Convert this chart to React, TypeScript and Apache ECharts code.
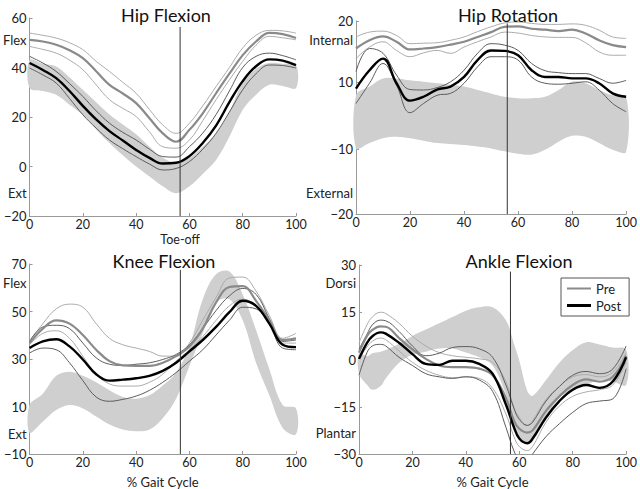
import React, { useEffect, useRef } from "react";
import * as echarts from "echarts";

// ---------- Hip Flexion ----------
const X_HIP_FLEX = [0, 5, 10, 15, 20, 25, 30, 35, 40, 45, 50, 55, 60, 65, 70, 75, 80, 85, 90, 95, 100];
const hipFlexBandUpper = [43, 41.5, 40.4, 36, 31, 26, 21, 17, 13, 8, 3.5, 1.5, 3.5, 8, 13.4, 22, 33.7, 39.5, 41.8, 41.5, 41];
const hipFlexBandLower = [31.7, 30.5, 29, 25, 20.9, 15, 9.5, 4.5, 0, -4, -8, -10.8, -8, -3, 2.6, 12, 22.9, 29, 33, 32.5, 31.7];
const hipFlexPreMean = [51.2, 50.5, 49.2, 47, 43.8, 38.5, 33, 29.5, 25.6, 19.5, 13.4, 10, 14.8, 21.5, 29.6, 37.5, 45, 50.5, 54, 53.5, 51.9];
const hipFlexPreUpper = [53.9, 53, 51.9, 50, 47.2, 42.5, 38.4, 34, 29.6, 23, 16.8, 13.4, 17.5, 24.5, 32.3, 40, 47.9, 53, 55, 54.8, 53.9];
const hipFlexPreLower = [48.5, 47.3, 45.8, 43, 39.1, 33, 27, 23.5, 20.2, 14, 8, 7.4, 10.7, 18.5, 27, 35, 42.5, 49, 52.6, 52, 51.2];
const hipFlexPostMean = [41.8, 39, 35.7, 30.5, 24.5, 19, 14.3, 10.5, 6.7, 3.5, 1.2, 1.5, 4.2, 9.5, 16.5, 26, 34.5, 40.5, 43.3, 42.8, 41];
const hipFlexPostUpper = [44.5, 41.8, 38.4, 33.5, 28.3, 22.5, 17.5, 13.8, 10.7, 7, 4, 3.8, 8, 13.5, 21, 30.5, 40, 44.5, 45.8, 44.8, 43.1];
const hipFlexPostLower = [39.8, 37, 33.7, 27.5, 20.9, 15.5, 10.7, 7.2, 4, 1, -1.4, -0.8, 2, 7, 13.4, 22, 31, 37.5, 41, 40.8, 39.8];
const hipFlexYTicks = [60, 51, 40, 20, 0, -10.7, -20];
const hipFlexYLabels = ["60", "Flex", "40", "20", "0", "Ext", "\u221220"];
const hipFlexToeOff = 56.5;

// ---------- Hip Rotation ----------
const X_HIP_ROT = [0, 5, 10, 15, 20, 25, 30, 35, 40, 45, 50, 55, 60, 65, 70, 75, 80, 85, 90, 95, 100];
const hipRotBandUpper = [4.6, 6.4, 8.1, 8.1, 7.7, 7.4, 7.1, 6.8, 6.4, 5.7, 5.0, 4.3, 4.0, 4.0, 4.3, 5.7, 7.4, 7.1, 5.7, 4.6, 4.3];
const hipRotBandLower = [-6.4, -5.3, -4.3, -4.0, -4.3, -4.8, -5.3, -5.5, -5.7, -6, -6.4, -7.0, -7.5, -7.7, -6.7, -5.0, -3.8, -4.0, -5.3, -6.7, -7.1];
const hipRotPreMean = [14.3, 16, 16.8, 15.7, 14.1, 14.3, 14.6, 15.1, 15.7, 16.7, 17.7, 18.8, 18.9, 18.4, 18.2, 17.9, 18.2, 17.4, 16, 15, 14.6];
const hipRotPreUpper = [16.7, 17.7, 17.9, 17, 15.3, 15.4, 15.5, 16, 16.7, 17.8, 18.8, 19.6, 19.8, 19.5, 19.3, 19.3, 19.4, 19.1, 18.1, 16.7, 16.4];
const hipRotPreLower = [12.2, 14.6, 15.7, 13.9, 12.6, 13.4, 13.9, 13.3, 14.6, 15.7, 16.7, 17.7, 17.5, 17, 16.7, 16.6, 16.6, 15.5, 13.6, 12.9, 12.9];
const hipRotPostMean = [6.0, 9.8, 12.2, 7.1, 3.5, 4.3, 5.8, 6.4, 8.4, 11.9, 13.9, 13.8, 12.9, 9.8, 8.4, 8.4, 8.1, 8.1, 7.1, 5, 4.3];
const hipRotPostUpper = [9.5, 14.3, 13.3, 8.8, 5.8, 5.7, 6.2, 7.4, 9.8, 13.3, 15.3, 15, 13.9, 11.2, 9.7, 9.3, 9.1, 9.1, 8.1, 7.1, 7.7];
const hipRotPostLower = [2.9, 7.1, 11.2, 6.7, 1.0, 2.9, 4.6, 5.0, 7.1, 10.5, 12.6, 12.6, 11.9, 8.4, 7.1, 6.9, 7.1, 7.4, 5.7, 2.9, 1.2];
const hipRotYTicks = [20, 16.1, 7.3, -6.5, -15.7, -20];
const hipRotYLabels = ["20", "Internal", "10", "\u221210", "External", "\u221220"];
const hipRotToeOff = 56;

// ---------- Knee Flexion ----------
const X_KNEE = [0, 5, 10, 15, 20, 25, 30, 35, 40, 45, 50, 55, 60, 65, 70, 75, 80, 85, 90, 95, 100];
const kneeBandUpper = [10.6, 15.4, 22.9, 24.6, 22.9, 20.2, 16.8, 14, 13.3, 14.7, 18.8, 24.3, 35.3, 55.2, 65.7, 66.8, 57.2, 42.2, 25.7, 10.6, 9.2];
const kneeBandLower = [-1, 3.7, 8.5, 10.6, 9.2, 5.8, 2.4, 0.3, -0.4, 0.3, 5.1, 13.3, 27.1, 40.8, 53.8, 55.2, 46.3, 28.4, 14.7, 1, -1.7];
const kneePreMean = [36.7, 42.8, 46.3, 44.9, 40.1, 33.9, 29.1, 27.3, 27.1, 27.1, 28.4, 31.2, 35.3, 42.8, 53.8, 60.3, 60.7, 54.5, 46.3, 38, 38.7];
const kneePreUpper = [37.4, 44.9, 51.1, 53.1, 51.8, 44.9, 38.7, 36, 34.6, 33.2, 31.2, 31.2, 36.7, 46.3, 55.9, 64.1, 64.5, 58.6, 48.3, 38.7, 40.8];
const kneePreLower = [36, 40.8, 41.9, 38.7, 31.2, 23.6, 19.5, 18.6, 18.6, 20.2, 23.6, 29.1, 33.9, 39.4, 46.3, 52.4, 55.2, 52.4, 44.9, 36.7, 36.7];
const kneePostMean = [34.6, 37.4, 38.3, 35.3, 29.8, 23.6, 20.9, 21.3, 21.9, 22.9, 25, 28.4, 33.2, 38, 43.5, 49.7, 54.5, 52.4, 44.9, 36, 35];
const kneePostUpper = [37.4, 43.5, 44.2, 42.8, 36.7, 30.5, 27.8, 27.3, 27.8, 28.4, 29.8, 31.9, 36, 42.8, 50.4, 56.6, 59.7, 57.2, 47, 37.4, 38];
const kneePostLower = [32.5, 34.6, 33.9, 28.4, 20.9, 14, 12.2, 13, 14.4, 16.8, 20.2, 24.3, 29.1, 33.9, 40.1, 46.3, 51.8, 51.1, 44.9, 34.6, 33.9];
const kneeYTicks = [70, 62, 50, 30, 10, -1.6, -10];
const kneeYLabels = ["70", "Flex", "50", "30", "10", "Ext", "\u221210"];
const kneeToeOff = 56.6;

// ---------- Ankle Flexion ----------
const X_ANKLE = [0, 3, 5, 8, 10, 15, 20, 25, 30, 35, 40, 45, 50, 55, 58, 60, 63, 65, 70, 75, 80, 85, 90, 95, 100];
const ankleBandUpper = [2, 1, 2, 2.5, 3, 5, 7.5, 9.5, 11.5, 13.5, 15.5, 16.6, 16.6, 12.5, 5, -0.3, -10, -11.5, -6.5, -1, 3, 5.5, 4.8, 3.8, 3.2];
const ankleBandLower = [-4.5, -8, -9.6, -8.5, -6, -1, 1.5, 2.5, 3.5, 3.5, 2.2, 0.7, -1.9, -11.2, -21.5, -25, -26.5, -26, -18.4, -12.2, -9.6, -8.1, -6.5, -7, -8.1];
const anklePreMean = [2.2, 7.5, 9.4, 10.5, 10.4, 6.8, 3.2, 0.2, -1.9, -2.4, -2.4, -2.9, -5, -12.2, -19.4, -22, -23.2, -22.5, -16.3, -11.7, -8.1, -6.3, -7, -5.5, 1.2];
const anklePreUpper = [5.3, 11, 13.5, 15, 14.6, 11.5, 7.4, 4.3, 2.2, 1.2, 0.7, 0.2, -0.9, -7, -15.3, -18.4, -21, -19.4, -12.7, -8.6, -5.5, -4.8, -5.5, -4, 2.2];
const anklePreLower = [0.2, 4, 5.8, 6.8, 6.3, 2.7, -0.9, -3.4, -5, -5.8, -5.5, -6, -9.1, -17.3, -24.5, -27.6, -28.9, -27.6, -19.9, -14.8, -11.7, -10.3, -9.6, -8.1, -0.9];
const anklePostMean = [0.2, 5.3, 7.4, 8.6, 8.2, 5.3, 1.7, -1.4, -1.7, -0.4, -0.4, -1.4, -4.5, -14.3, -21.5, -25.1, -26.6, -25.1, -18.4, -13.2, -9.6, -8.1, -9, -7, 0.7];
const anklePostUpper = [3.2, 8, 11, 12.5, 12.3, 8.9, 4.3, 1.2, 2, 3.8, 4.1, 3.4, 0.7, -8.1, -15.5, -19, -20.9, -19.9, -13.2, -8.6, -5, -3.8, -4.5, -3, 4.3];
const anklePostLower = [-5, 2.2, 4.3, 4.8, 4.3, 0.7, -1.9, -4.5, -5.5, -6, -5.5, -6.5, -10.1, -21.5, -29, -31.7, -32.5, -30, -24.5, -20.4, -16.8, -14, -13.2, -12.5, -2.9];
const ankleYTicks = [30, 24.3, 15, 0, -15, -23.3, -30];
const ankleYLabels = ["30", "Dorsi", "15", "0", "\u221215", "Plantar", "\u221230"];
const ankleToeOff = 56.7;

const LEGEND_NAMES = ["Pre", "Post"];
const TOE_OFF_LABEL = "Toe-off";

const FONT = 'Lato, "Noto Sans", sans-serif';
const BAND_COLOR = "#cfcfcf";
const PRE_MEAN_COLOR = "#8a8a8a";
const PRE_SD_COLOR = "#ababab";
const POST_MEAN_COLOR = "#000000";
const POST_SD_COLOR = "#5c5c5c";

const pairs = (xs: number[], ys: number[]) => xs.map((x, i) => [x, ys[i]]);

type Panel = {
  title: string;
  x: number[];
  bandU: number[];
  bandL: number[];
  preM: number[];
  preU: number[];
  preL: number[];
  postM: number[];
  postU: number[];
  postL: number[];
  yMin: number;
  yMax: number;
  yTicks: number[];
  yLabels: string[];
  toeOff: number;
  toeTop: number;
  grid: { left: number; top: number; width: number; height: number };
  titleX: number;
  titleY: number;
  xName: string;
};

const panels: Panel[] = [
  {
    title: "Hip Flexion", x: X_HIP_FLEX,
    bandU: hipFlexBandUpper, bandL: hipFlexBandLower,
    preM: hipFlexPreMean, preU: hipFlexPreUpper, preL: hipFlexPreLower,
    postM: hipFlexPostMean, postU: hipFlexPostUpper, postL: hipFlexPostLower,
    yMin: -20, yMax: 60, yTicks: hipFlexYTicks, yLabels: hipFlexYLabels,
    toeOff: hipFlexToeOff, toeTop: 56.4,
    grid: { left: 26, top: 18, width: 270, height: 198 },
    titleX: 161, titleY: 1, xName: "",
  },
  {
    title: "Hip Rotation", x: X_HIP_ROT,
    bandU: hipRotBandUpper, bandL: hipRotBandLower,
    preM: hipRotPreMean, preU: hipRotPreUpper, preL: hipRotPreLower,
    postM: hipRotPostMean, postU: hipRotPostUpper, postL: hipRotPostLower,
    yMin: -20, yMax: 20, yTicks: hipRotYTicks, yLabels: hipRotYLabels,
    toeOff: hipRotToeOff, toeTop: 19.5,
    grid: { left: 356, top: 21, width: 271, height: 193 },
    titleX: 503, titleY: 1, xName: "",
  },
  {
    title: "Knee Flexion", x: X_KNEE,
    bandU: kneeBandUpper, bandL: kneeBandLower,
    preM: kneePreMean, preU: kneePreUpper, preL: kneePreLower,
    postM: kneePostMean, postU: kneePostUpper, postL: kneePostLower,
    yMin: -10, yMax: 70, yTicks: kneeYTicks, yLabels: kneeYLabels,
    toeOff: kneeToeOff, toeTop: 67.5,
    grid: { left: 27, top: 264, width: 269, height: 194 },
    titleX: 159, titleY: 247, xName: "% Gait Cycle",
  },
  {
    title: "Ankle Flexion", x: X_ANKLE,
    bandU: ankleBandUpper, bandL: ankleBandLower,
    preM: anklePreMean, preU: anklePreUpper, preL: anklePreLower,
    postM: anklePostMean, postU: anklePostUpper, postL: anklePostLower,
    yMin: -30, yMax: 30, yTicks: ankleYTicks, yLabels: ankleYLabels,
    toeOff: ankleToeOff, toeTop: 27.9,
    grid: { left: 359, top: 265, width: 271, height: 194 },
    titleX: 514, titleY: 247, xName: "% Gait Cycle",
  },
];

function buildOption() {
  const grids: any[] = [];
  const xAxes: any[] = [];
  const yAxes: any[] = [];
  const series: any[] = [];
  const titles: any[] = [];

  panels.forEach((p, i) => {
    grids.push({ ...p.grid, containLabel: false });
    titles.push({
      text: p.title,
      left: p.titleX,
      top: p.titleY,
      textAlign: "center",
      textStyle: { fontFamily: FONT, fontSize: 18, fontWeight: "normal", color: "#111" },
    });
    xAxes.push({
      type: "value",
      gridIndex: i,
      min: 0,
      max: 100,
      interval: 20,
      name: p.xName,
      nameLocation: "middle",
      nameGap: 21,
      nameTextStyle: { fontFamily: FONT, fontSize: 13, color: "#222" },
      axisLine: { show: true, onZero: false, lineStyle: { color: "#9a9a9a", width: 1 } },
      axisTick: { show: true, inside: true, length: 3, lineStyle: { color: "#9a9a9a" } },
      splitLine: { show: false },
      axisLabel: { margin: 2, fontFamily: FONT, fontSize: 12.5, lineHeight: 13, color: "#222" },
    });
    const numericTicks = p.yTicks.filter((_, k) => /\d/.test(p.yLabels[k]));
    yAxes.push({
      type: "value",
      gridIndex: i,
      min: p.yMin,
      max: p.yMax,
      axisLine: { show: true, onZero: false, lineStyle: { color: "#9a9a9a", width: 1 } },
      axisTick: { show: true, inside: true, length: 3, lineStyle: { color: "#9a9a9a" }, customValues: numericTicks },
      splitLine: { show: false },
      axisLabel: {
        customValues: p.yTicks,
        margin: 3,
        fontFamily: FONT,
        fontSize: 13,
        color: "#222",
        formatter: (v: number) => {
          let best = 0;
          p.yTicks.forEach((t, k) => {
            if (Math.abs(t - v) < Math.abs(p.yTicks[best] - v)) best = k;
          });
          return p.yLabels[best];
        },
      },
    });

    // normal-range band drawn as one polygon through the axes' scales
    series.push({
      type: "custom",
      name: "band-" + i,
      xAxisIndex: i,
      yAxisIndex: i,
      data: p.x.map((x, k) => [x, p.bandL[k], p.bandU[k]]),
      encode: { x: 0, y: [1, 2] },
      silent: true,
      z: 1,
      renderItem: (params: any, api: any) => {
        if (params.dataIndex !== 0) return null;
        const upper = p.x.map((x, k) => api.coord([x, p.bandU[k]]));
        const lower = p.x.map((x, k) => api.coord([x, p.bandL[k]])).reverse();
        return {
          type: "polygon",
          shape: { points: upper.concat(lower), smooth: 0.35 },
          style: { fill: BAND_COLOR, stroke: "none" },
        };
      },
    });

    const addLine = (name: string, ys: number[], color: string, width: number, z: number) => {
      series.push({
        type: "line",
        name,
        xAxisIndex: i,
        yAxisIndex: i,
        data: pairs(p.x, ys),
        smooth: 0.4,
        symbol: "none",
        showSymbol: false,
        lineStyle: { color, width },
        itemStyle: { color },
        z,
      });
    };
    addLine("Pre SD+ " + i, p.preU, PRE_SD_COLOR, 1, 3);
    addLine("Pre SD- " + i, p.preL, PRE_SD_COLOR, 1, 3);
    addLine("Post SD+ " + i, p.postU, POST_SD_COLOR, 1, 4);
    addLine("Post SD- " + i, p.postL, POST_SD_COLOR, 1, 4);
    addLine("Pre", p.preM, PRE_MEAN_COLOR, 2.2, 5);
    addLine("Post", p.postM, POST_MEAN_COLOR, 2.4, 6);

    series.push({
      type: "line",
      name: "toe-off-" + i,
      xAxisIndex: i,
      yAxisIndex: i,
      data: [
        [p.toeOff, p.yMin],
        [p.toeOff, p.toeTop],
      ],
      symbol: "none",
      lineStyle: { color: "#333", width: 1 },
      z: 7,
      silent: true,
    });
  });

  return {
    animation: false,
    backgroundColor: "#ffffff",
    title: titles,
    grid: grids,
    xAxis: xAxes,
    yAxis: yAxes,
    legend: {
      data: [
        { name: LEGEND_NAMES[0], icon: "path://M0,0H24V2H0Z", itemStyle: { color: PRE_MEAN_COLOR } },
        { name: LEGEND_NAMES[1], icon: "path://M0,0H24V3H0Z", itemStyle: { color: POST_MEAN_COLOR } },
      ],
      orient: "vertical",
      left: 561,
      top: 278,
      padding: [4, 8, 4, 6],
      itemGap: 4,
      itemWidth: 24,
      itemHeight: 12,
      borderColor: "#555",
      borderWidth: 1,
      borderRadius: 0,
      backgroundColor: "#fff",
      selectedMode: false,
      textStyle: { fontFamily: FONT, fontSize: 13, color: "#222" },
    },
    series,
  };
}

export default function App() {
  const ref = useRef<HTMLDivElement | null>(null);
  useEffect(() => {
    if (!ref.current) return;
    const chart = echarts.init(ref.current, null, { renderer: "svg" });
    chart.setOption(buildOption() as any);
    const toeX = chart.convertToPixel({ xAxisIndex: 0 }, hipFlexToeOff) as number;
    const axisBottom = chart.convertToPixel({ yAxisIndex: 0 }, panels[0].yMin) as number;
    chart.setOption({
      graphic: [
        {
          type: "text",
          x: toeX,
          y: axisBottom + 17,
          silent: true,
          style: {
            text: TOE_OFF_LABEL,
            fill: "#222",
            font: `12.5px ${FONT}`,
            lineHeight: 13,
            align: "center",
            verticalAlign: "top",
          },
        },
      ],
    });
    return () => chart.dispose();
  }, []);
  return (
    <div
      ref={ref}
      style={{ position: "fixed", left: 0, top: 0, width: 640, height: 489, background: "#fff" }}
    />
  );
}
